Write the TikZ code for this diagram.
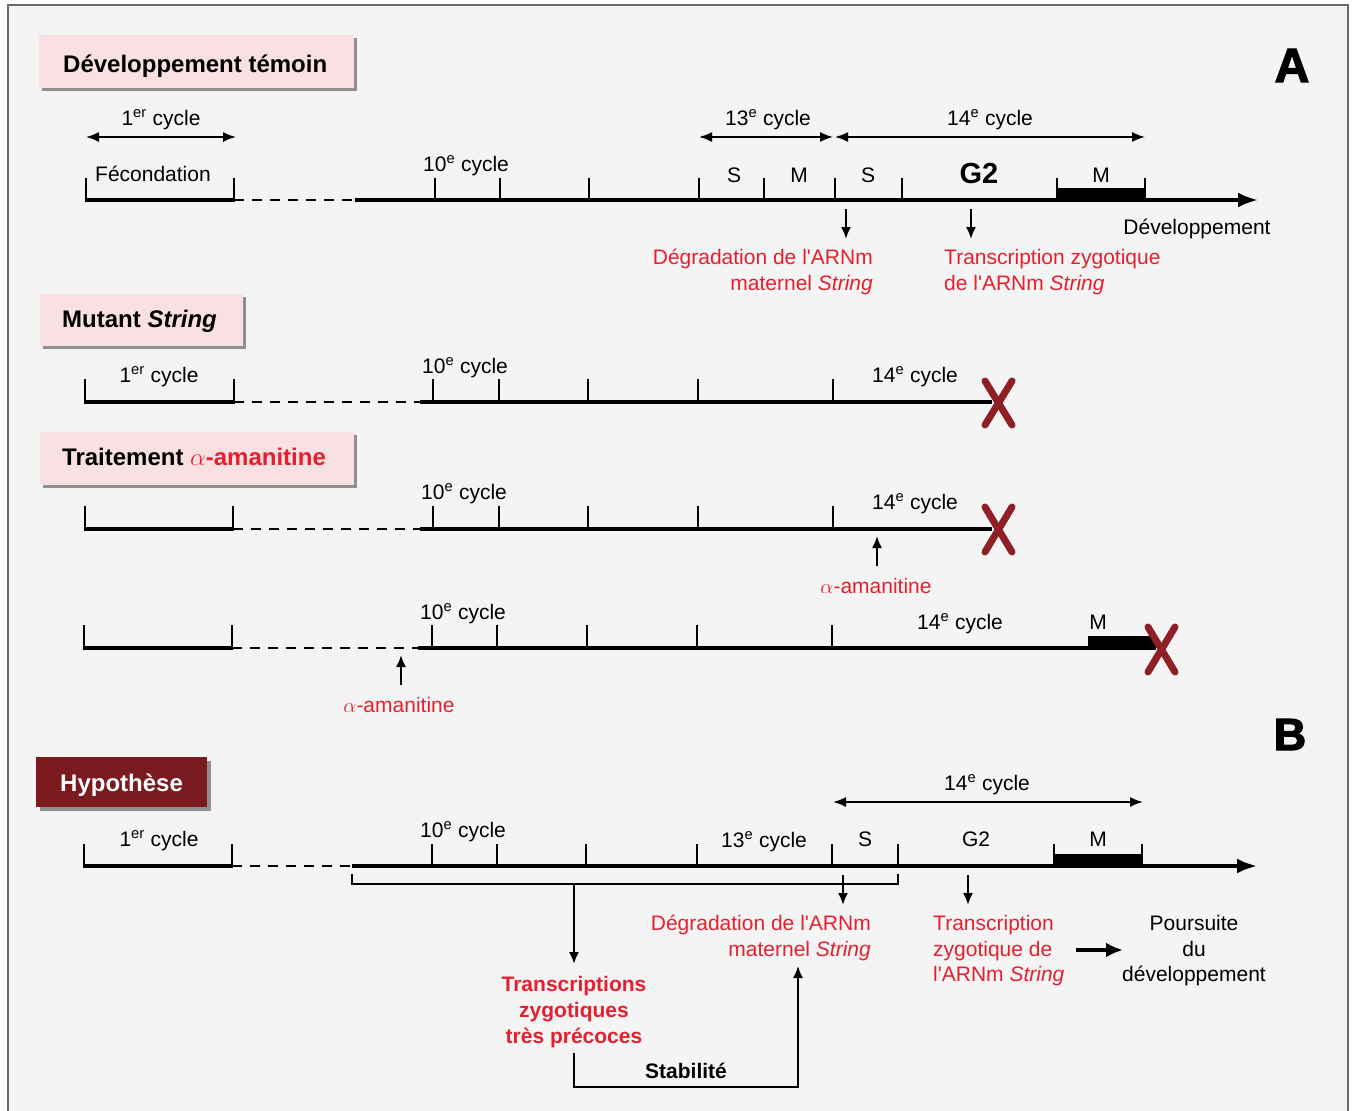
\documentclass[tikz,border=0pt]{standalone}
\usepackage{fontspec}
\setmainfont{Liberation Sans}[Ligatures=TeXOff]
\newfontfamily\heavyfont{Liberation Sans Bold}[FakeBold=2.5]
\usetikzlibrary{arrows.meta}
\definecolor{pagebg}{HTML}{F4F4F4}
\definecolor{pinkbox}{HTML}{F8E0E3}
\definecolor{redtxt}{HTML}{E5202E}
\definecolor{darkred}{HTML}{7B1A1F}
\definecolor{xred}{HTML}{8E1F24}
\definecolor{shadowgray}{HTML}{8F8F8F}
\definecolor{framegray}{HTML}{6A6A6A}
\newcommand\ordn[2]{#1\textsuperscript{#2}}
\tikzset{
  lab/.style={font=\fontsize{21}{25}\selectfont, inner sep=0pt, anchor=base},
  redlab/.style={lab, text=redtxt},
  titletxt/.style={font=\fontsize{24}{28}\selectfont\bfseries, inner sep=0pt, anchor=base west},
  mainline/.style={line width=3.4pt},
  thinline/.style={line width=1.4pt},
  dashline/.style={line width=1.3pt, dash pattern=on 10pt off 8pt},
  dblarrow/.style={line width=1.7pt, {Latex[length=13pt,width=10pt]}-{Latex[length=13pt,width=10pt]}},
  downarrow/.style={line width=2pt, -{Latex[length=12pt,width=10pt]}},
  mainarrow/.style={line width=3.4pt, -{Latex[length=20pt,width=15pt]}},
  bigarrow/.style={line width=3.4pt, -{Latex[length=17pt,width=15pt]}},
  xmark/.style={line width=7pt, xred, line cap=round},
  letter/.style={font=\fontsize{48}{50}\heavyfont, inner sep=0pt, anchor=base},
}
\begin{document}
\begin{tikzpicture}[x=1pt,y=-1pt]
\useasboundingbox (0,0) rectangle (1353,1111);
\fill[white] (0,0) rectangle (1353,1111);
\fill[pagebg] (8,5) rectangle (1348,1111);
\draw[framegray, line width=1.2pt] (8,1111) -- (8,5) -- (1348,5) -- (1348,1111);

% ================= A : Developpement temoin =================
\fill[shadowgray] (42,38) rectangle (357,91);
\fill[pinkbox] (39,35) rectangle (354,88);
\node[titletxt] (t1) at (63,72.6) {Développement témoin};
\node[letter] (letA) at (1292,82) {A};

% bracket 1er cycle
\coordinate (b1l) at (86,200); \coordinate (b1r) at (234,200);
\draw[thinline] (86,178) -- (b1l); \draw[thinline] (234,178) -- (b1r);
\draw[mainline] (85.3,200) -- (234.7,200);
\coordinate (d1e) at (355,200);
\draw[dashline] (b1r) -- (d1e);
\coordinate (end1) at (1258,200);
\draw[mainarrow] (d1e) -- (end1);
\foreach \x in {435,500,589,699,764,835,902,1057,1145} \draw[thinline] (\x,178) -- (\x,200);
\fill (1057,187.5) rectangle (1145,201);

\node[lab] (c1a) at (161,125.5) {\ordn{1}{er} cycle};
\coordinate (c1al) at (86,137); \coordinate (c1ar) at (236,137);
\draw[dblarrow] (c1al) -- (c1ar);
\node[lab, anchor=base west] (fec) at (95,181.5) {Fécondation};
\node[lab] (c10a) at (466,171.5) {\ordn{10}{e} cycle};
\node[lab] (c13a) at (768,125.5) {\ordn{13}{e} cycle};
\node[lab] (c14a) at (990,125.5) {\ordn{14}{e} cycle};
\coordinate (c13l) at (699,137); \coordinate (c13r) at (833,137);
\coordinate (c14l) at (835,137); \coordinate (c14r) at (1145,137);
\draw[dblarrow] (c13l) -- (c13r);
\draw[dblarrow] (c14l) -- (c14r);
\node[lab] (sA1) at (734,182.5) {S};
\node[lab] (mA1) at (799,182.5) {M};
\node[lab] (sA2) at (868,182.5) {S};
\node[lab, font=\fontsize{29}{32}\selectfont\bfseries] (g2a) at (979,183) {G2};
\node[lab] (mA2) at (1101,182.5) {M};
\node[lab] (devA) at (1197,234.5) {Développement};

\coordinate (ar1s) at (846,209); \coordinate (ar1e) at (846,239);
\coordinate (ar2s) at (971,209); \coordinate (ar2e) at (971,239);
\draw[downarrow] (ar1s) -- (ar1e);
\draw[downarrow] (ar2s) -- (ar2e);
\node[redlab, anchor=base east] (degA1) at (873,264.5) {Dégradation de l'ARNm};
\node[redlab, anchor=base east] (degA2) at (873,290.5) {maternel \textit{String}};
\node[redlab, anchor=base west] (trA1) at (944,264.5) {Transcription zygotique};
\node[redlab, anchor=base west] (trA2) at (944,290.5) {de l'ARNm \textit{String}};

% ================= Mutant String =================
\fill[shadowgray] (43,297) rectangle (246,349);
\fill[pinkbox] (40,294) rectangle (243,346);
\node[titletxt] (t2) at (62,327.6) {Mutant \textit{String}};

\draw[thinline] (85,379) -- (85,402); \draw[thinline] (234,379) -- (234,402);
\draw[mainline] (84.3,402) -- (234.7,402);
\coordinate (d2s) at (234,402); \coordinate (d2e) at (420,402);
\draw[dashline] (d2s) -- (d2e);
\coordinate (end2) at (992,402);
\draw[mainline] (d2e) -- (end2);
\foreach \x in {433,499,588,698,833} \draw[thinline] (\x,379) -- (\x,402);
\node[lab] (c1b) at (159,382.5) {\ordn{1}{er} cycle};
\node[lab] (c10b) at (465,373.5) {\ordn{10}{e} cycle};
\node[lab] (c14b) at (915,382.5) {\ordn{14}{e} cycle};
\draw[xmark] (985,381) -- (1012,425);
\draw[xmark] (1012,381) -- (985,425);

% ================= Traitement alpha-amanitine =================
\fill[shadowgray] (43,435) rectangle (357,488);
\fill[pinkbox] (40,432) rectangle (354,485);
\node[titletxt] (t3) at (62,465.6) {Traitement \textcolor{redtxt}{\mdseries$\alpha$\bfseries-amanitine}};

\draw[thinline] (85,506) -- (85,529); \draw[thinline] (233,506) -- (233,529);
\draw[mainline] (84.3,529) -- (233.7,529);
\coordinate (d3s) at (233,529); \coordinate (d3e) at (420,529);
\draw[dashline] (d3s) -- (d3e);
\coordinate (end3) at (992,529);
\draw[mainline] (d3e) -- (end3);
\foreach \x in {433,499,588,698,833} \draw[thinline] (\x,506) -- (\x,529);
\node[lab] (c10c) at (464,499.5) {\ordn{10}{e} cycle};
\node[lab] (c14c) at (915,509.5) {\ordn{14}{e} cycle};
\draw[xmark] (985,507) -- (1012,552);
\draw[xmark] (1012,507) -- (985,552);
\coordinate (up1s) at (877,566); \coordinate (up1e) at (877,536);
\draw[downarrow] (up1s) -- (up1e);
\node[redlab] (am1) at (876,593) {$\alpha$-amanitine};

% line 4
\draw[thinline] (84,625) -- (84,648); \draw[thinline] (232,625) -- (232,648);
\draw[mainline] (83.3,648) -- (232.7,648);
\coordinate (d4s) at (232,648); \coordinate (d4e) at (418,648);
\draw[dashline] (d4s) -- (d4e);
\coordinate (end4) at (1150,648);
\draw[mainline] (d4e) -- (end4);
\foreach \x in {432,497,587,697,832} \draw[thinline] (\x,625) -- (\x,648);
\fill (1088,635.5) rectangle (1156,649.5);
\node[lab] (c10d) at (463,619.5) {\ordn{10}{e} cycle};
\node[lab] (c14d) at (960,629.5) {\ordn{14}{e} cycle};
\node[lab] (mD) at (1098,629.5) {M};
\draw[xmark] (1148,627) -- (1175,672);
\draw[xmark] (1175,627) -- (1148,672);
\coordinate (up2s) at (401,685); \coordinate (up2e) at (401,655);
\draw[downarrow] (up2s) -- (up2e);
\node[redlab] (am2) at (399,712) {$\alpha$-amanitine};

% ================= B : Hypothese =================
\node[letter, font=\fontsize{45}{48}\heavyfont] (letB) at (1290,750) {B};
\fill[shadowgray] (40,761) rectangle (211,811);
\fill[darkred] (36,757) rectangle (207,807);
\node[titletxt, text=white] (t4) at (60,791.6) {Hypothèse};

\node[lab] (c14e) at (987,790.5) {\ordn{14}{e} cycle};
\coordinate (c14el) at (833,802); \coordinate (c14er) at (1143,802);
\draw[dblarrow] (c14el) -- (c14er);

\draw[thinline] (84,844) -- (84,866); \draw[thinline] (232,844) -- (232,866);
\draw[mainline] (83.3,866) -- (232.7,866);
\coordinate (d5s) at (232,866); \coordinate (d5e) at (352,866);
\draw[dashline] (d5s) -- (d5e);
\coordinate (end5) at (1257,866);
\draw[mainarrow] (d5e) -- (end5);
\foreach \x in {432,497,586,697,832,898,1054,1142} \draw[thinline] (\x,844) -- (\x,866);
\fill (1054,853.5) rectangle (1142,867);
\node[lab] (c1e) at (159,846.5) {\ordn{1}{er} cycle};
\node[lab] (c10e) at (463,837.5) {\ordn{10}{e} cycle};
\node[lab] (c13e) at (764,847.5) {\ordn{13}{e} cycle};
\node[lab] (sE) at (865,846.5) {S};
\node[lab] (g2e) at (976,846.5) {G2};
\node[lab] (mE) at (1098,846.5) {M};

% bracket under
\draw[thinline] (352,874) -- (352,884) -- (898,884) -- (898,874);
\coordinate (brk) at (574,884); \coordinate (brke) at (574,964);
\draw[downarrow] (brk) -- (brke);
\coordinate (ar3s) at (843,875); \coordinate (ar3e) at (843,905);
\coordinate (ar4s) at (968,875); \coordinate (ar4e) at (968,905);
\draw[downarrow] (ar3s) -- (ar3e);
\draw[downarrow] (ar4s) -- (ar4e);

\node[redlab, anchor=base east] (degB1) at (871,930.5) {Dégradation de l'ARNm};
\node[redlab, anchor=base east] (degB2) at (871,956) {maternel \textit{String}};
\node[redlab, anchor=base west] (trB1) at (933,930.5) {Transcription};
\node[redlab, anchor=base west] (trB2) at (933,956.5) {zygotique de};
\node[redlab, anchor=base west] (trB3) at (933,981.5) {l'ARNm \textit{String}};
\coordinate (bas) at (1076,950); \coordinate (bae) at (1123,950);
\draw[bigarrow] (bas) -- (bae);
\node[lab] (pB1) at (1194,930.5) {Poursuite};
\node[lab] (pB2) at (1194,956.5) {du};
\node[lab] (pB3) at (1194,981.5) {développement};

\node[redlab, font=\fontsize{21}{25}\selectfont\bfseries] (zB1) at (574,991.6) {Transcriptions};
\node[redlab, font=\fontsize{21}{25}\selectfont\bfseries] (zB2) at (574,1017.6) {zygotiques};
\node[redlab, font=\fontsize{21}{25}\selectfont\bfseries] (zB3) at (574,1043.6) {très précoces};
\node[lab, font=\fontsize{21}{25}\selectfont\bfseries] (stab) at (686,1078) {Stabilité};
\coordinate (ls) at (574,1053); \coordinate (le) at (798,966);
\draw[line width=1.8pt, -{Latex[length=12pt,width=10pt]}] (ls) -- (574,1087) -- (798,1087) -- (le);
\end{tikzpicture}
\end{document}
